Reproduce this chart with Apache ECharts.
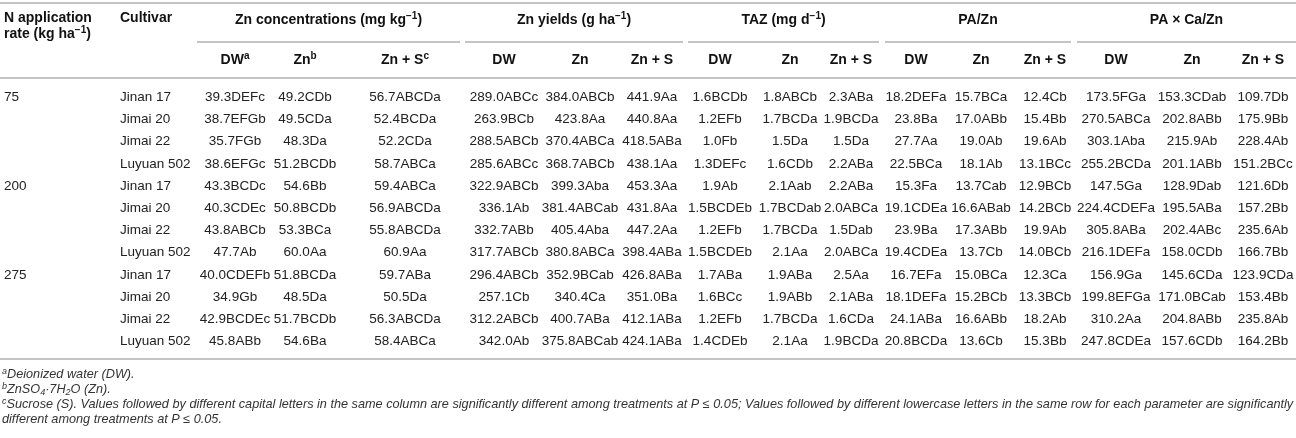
<!DOCTYPE html>
<html>
<head>
<meta charset="utf-8">
<script src="https://cdn.jsdelivr.net/npm/echarts@6/dist/echarts.min.js"></script>
<style>
	html, body { margin: 0; padding: 0; background: #fff; }
	#main { width: 1296px; height: 438px; }
</style>
</head>
<body>
<div id="main"></div>
<script>
'use strict';
// table values, one array per column (12 rows: 3 N rates x 4 cultivars)
var nRates = ['75', '200', '275'];
var cultivars = ['Jinan 17', 'Jimai 20', 'Jimai 22', 'Luyuan 502'];

var concDW = ['39.3DEFc', '38.7EFGb', '35.7FGb', '38.6EFGc', '43.3BCDc', '40.3CDEc', '43.8ABCb', '47.7Ab', '40.0CDEFb', '34.9Gb', '42.9BCDEc', '45.8ABb'];
var concZn = ['49.2CDb', '49.5CDa', '48.3Da', '51.2BCDb', '54.6Bb', '50.8BCDb', '53.3BCa', '60.0Aa', '51.8BCDa', '48.5Da', '51.7BCDb', '54.6Ba'];
var concZnS = ['56.7ABCDa', '52.4BCDa', '52.2CDa', '58.7ABCa', '59.4ABCa', '56.9ABCDa', '55.8ABCDa', '60.9Aa', '59.7ABa', '50.5Da', '56.3ABCDa', '58.4ABCa'];

var yieldDW = ['289.0ABCc', '263.9BCb', '288.5ABCb', '285.6ABCc', '322.9ABCb', '336.1Ab', '332.7ABb', '317.7ABCb', '296.4ABCb', '257.1Cb', '312.2ABCb', '342.0Ab'];
var yieldZn = ['384.0ABCb', '423.8Aa', '370.4ABCa', '368.7ABCb', '399.3Aba', '381.4ABCab', '405.4Aba', '380.8ABCa', '352.9BCab', '340.4Ca', '400.7ABa', '375.8ABCab'];
var yieldZnS = ['441.9Aa', '440.8Aa', '418.5ABa', '438.1Aa', '453.3Aa', '431.8Aa', '447.2Aa', '398.4ABa', '426.8ABa', '351.0Ba', '412.1ABa', '424.1ABa'];

var tazDW = ['1.6BCDb', '1.2EFb', '1.0Fb', '1.3DEFc', '1.9Ab', '1.5BCDEb', '1.2EFb', '1.5BCDEb', '1.7ABa', '1.6BCc', '1.2EFb', '1.4CDEb'];
var tazZn = ['1.8ABCb', '1.7BCDa', '1.5Da', '1.6CDb', '2.1Aab', '1.7BCDab', '1.7BCDa', '2.1Aa', '1.9ABa', '1.9ABb', '1.7BCDa', '2.1Aa'];
var tazZnS = ['2.3ABa', '1.9BCDa', '1.5Da', '2.2ABa', '2.2ABa', '2.0ABCa', '1.5Dab', '2.0ABCa', '2.5Aa', '2.1ABa', '1.6CDa', '1.9BCDa'];

var paDW = ['18.2DEFa', '23.8Ba', '27.7Aa', '22.5BCa', '15.3Fa', '19.1CDEa', '23.9Ba', '19.4CDEa', '16.7EFa', '18.1DEFa', '24.1ABa', '20.8BCDa'];
var paZn = ['15.7BCa', '17.0ABb', '19.0Ab', '18.1Ab', '13.7Cab', '16.6ABab', '17.3ABb', '13.7Cb', '15.0BCa', '15.2BCb', '16.6ABb', '13.6Cb'];
var paZnS = ['12.4Cb', '15.4Bb', '19.6Ab', '13.1BCc', '12.9BCb', '14.2BCb', '19.9Ab', '14.0BCb', '12.3Ca', '13.3BCb', '18.2Ab', '15.3Bb'];

var pacaDW = ['173.5FGa', '270.5ABCa', '303.1Aba', '255.2BCDa', '147.5Ga', '224.4CDEFa', '305.8ABa', '216.1DEFa', '156.9Ga', '199.8EFGa', '310.2Aa', '247.8CDEa'];
var pacaZn = ['153.3CDab', '202.8ABb', '215.9Ab', '201.1ABb', '128.9Dab', '195.5ABa', '202.4ABc', '158.0CDb', '145.6CDa', '171.0BCab', '204.8ABb', '157.6CDb'];
var pacaZnS = ['109.7Db', '175.9Bb', '228.4Ab', '151.2BCc', '121.6Db', '157.2Bb', '235.6Ab', '166.7Bb', '123.9CDa', '153.4Bb', '235.8Ab', '164.2Bb'];

var valueCols = [concDW, concZn, concZnS, yieldDW, yieldZn, yieldZnS, tazDW, tazZn, tazZnS,
	paDW, paZn, paZnS, pacaDW, pacaZn, pacaZnS];

// header texts
var groupTitles = ['Zn concentrations (mg kg{sup|−1})', 'Zn yields (g ha{sup|−1})', 'TAZ (mg d{sup|−1})', 'PA/Zn', 'PA × Ca/Zn'];
var subTitles = ['DW{sup|a}', 'Zn{sup|b}', 'Zn + S{sup|c}', 'DW', 'Zn', 'Zn + S', 'DW', 'Zn', 'Zn + S',
	'DW', 'Zn', 'Zn + S', 'DW', 'Zn', 'Zn + S'];
var footnotes = [
	'{sup|a}Deionized water (DW).',
	'{sup|b}ZnSO{sub|4}·7H{sub|2}O (Zn).',
	'{sup|c}Sucrose (S). Values followed by different capital letters in the same column are significantly different among treatments at P ≤ 0.05; Values followed by different lowercase letters in the same row for each parameter are significantly',
	'different among treatments at P ≤ 0.05.'
];

// layout (pixels)
var W = 1296, H = 438;
var COL_X = [4, 120, 235, 305, 405, 504, 580, 652, 720, 790, 851, 916, 981, 1045, 1116, 1192, 1263];
var GROUP_SPAN = [[197, 460], [465, 683], [688, 879], [885, 1071], [1077, 1296]];
var ROW_TOP = 86.2, ROW_H = 22.2;
var FONT = '"Liberation Sans", Arial, Helvetica, sans-serif';
var TXT = '#222';
var RULE = '#c4c4c4';

// cells: [x, row, col]
var rowKeys = [];
var cellData = [];
var cellText = [];
for (var r = 0; r < 12; r++) {
	rowKeys.push('r' + r);
	cellData.push([COL_X[0], r, 0]);
	cellText.push(r % 4 === 0 ? nRates[r / 4] : '');
	cellData.push([COL_X[1], r, 1]);
	cellText.push(cultivars[r % 4]);
	for (var c = 0; c < valueCols.length; c++) {
		cellData.push([COL_X[c + 2], r, c + 2]);
		cellText.push(valueCols[c][r]);
	}
}

var supRich = {
	sup: { fontSize: 10, fontWeight: 'bold', fontFamily: FONT, fill: '#111', verticalAlign: 'top', lineHeight: 17 }
};

var graphics = [];
function rule(x1, x2, y, lw) {
	graphics.push({ type: 'line', silent: true, shape: { x1: x1, y1: y, x2: x2, y2: y },
		style: { stroke: RULE, lineWidth: lw || 2 } });
}
function label(x, y, text, align, opts) {
	opts = opts || {};
	graphics.push({ type: 'text', silent: true, x: x, y: y,
		style: {
			text: text, align: align, verticalAlign: 'middle',
			fontSize: opts.size || 14, fontWeight: opts.weight || 'bold', fontStyle: opts.style || 'normal',
			fontFamily: FONT, fill: opts.fill || '#111', lineHeight: opts.lh || 17,
			rich: opts.rich || supRich
		} });
}

rule(0, W, 3);
label(COL_X[0], 18, 'N application', 'left');
label(COL_X[0], 34, 'rate (kg ha{sup|−1})', 'left');
label(COL_X[1], 18, 'Cultivar', 'left');
GROUP_SPAN.forEach(function (s, i) {
	label((s[0] + s[1]) / 2, 20, groupTitles[i], 'center');
	rule(s[0], s[1], 42);
});
subTitles.forEach(function (t, i) {
	label(COL_X[i + 2], 60, t, 'center');
});
rule(0, W, 78);
rule(0, W, 359);

var footRich = {
	sup: { fontSize: 9, fontStyle: 'italic', fontFamily: FONT, fill: '#333', verticalAlign: 'top', lineHeight: 15 },
	sub: { fontSize: 9, fontStyle: 'italic', fontFamily: FONT, fill: '#333', verticalAlign: 'bottom', lineHeight: 15 }
};
footnotes.forEach(function (t, i) {
	label(2, 374 + i * 15, t, 'left', { size: 12.7, weight: 'normal', style: 'italic', fill: '#333', rich: footRich, lh: 15 });
});

var chart = echarts.init(document.getElementById('main'), null, { renderer: 'canvas' });
var option = {
	animation: false,
	backgroundColor: '#fff',
	grid: { left: 0, right: 0, top: ROW_TOP, height: ROW_H * 12 },
	xAxis: { type: 'value', min: 0, max: W, show: false },
	yAxis: { type: 'category', data: rowKeys, inverse: true, show: false },
	graphic: { elements: graphics },
	series: [{
		type: 'custom',
		silent: true,
		coordinateSystem: 'cartesian2d',
		encode: { x: 0, y: 1 },
		data: cellData,
		renderItem: function (params, api) {
			var p = api.coord([api.value(0), api.value(1)]);
			var col = api.value(2);
			return {
				type: 'text',
				x: p[0],
				y: p[1],
				style: {
					text: cellText[params.dataIndex],
					fontSize: 13.5,
					fontFamily: FONT,
					fill: TXT,
					align: col < 2 ? 'left' : 'center',
					verticalAlign: 'middle'
				}
			};
		}
	}]
};
chart.setOption(option);
</script>
</body>
</html>
